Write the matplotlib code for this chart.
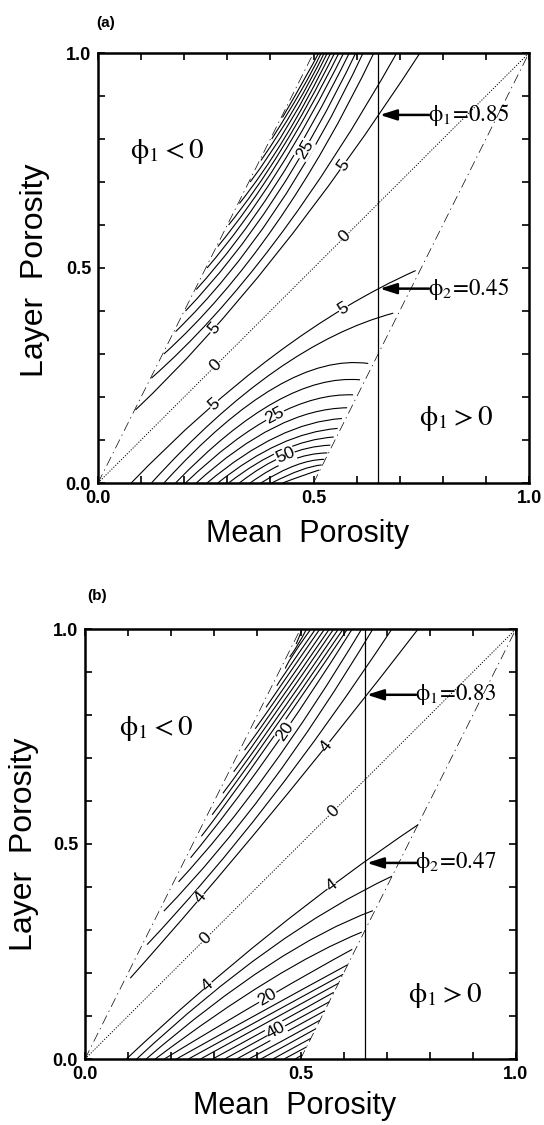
import matplotlib
matplotlib.use('Agg')
import matplotlib.pyplot as plt
from matplotlib.path import Path
from matplotlib.patches import PathPatch
import numpy as np

plt.rcParams['font.family'] = ['Liberation Sans', 'DejaVu Sans']
plt.rcParams['mathtext.fontset'] = 'stix'

# ---------------- panel (a) : contour lines ----------------
a_levels = [5, 10, 15, 20, 25, 30, 35, 40, 45, 50, 55, 60, 65, 70]
# lower family: start on bottom edge, a middle point, end at right boundary
a_low_x0 = [0.077, 0.124, 0.153, 0.180, 0.203, 0.228, 0.253, 0.278, 0.303, 0.328, 0.353, 0.378, 0.403, 0.428]
a_low_mx = [0.41, 0.41, 0.41, 0.41, 0.41, 0.41, 0.415, 0.42, 0.427, 0.434, 0.445, 0.458, 0.47, 0.48]
a_low_my = [0.298, 0.26, 0.222, 0.188, 0.157, 0.13, 0.108, 0.09, 0.076, 0.064, 0.052, 0.041, 0.03, 0.019]
a_low_ex = [0.737, 0.685, 0.627, 0.608, 0.592, 0.578, 0.566, 0.556, 0.547, 0.539, 0.532, 0.525, 0.519, 0.513]
a_low_ey = [0.494, 0.395, 0.278, 0.240, 0.205, 0.175, 0.150, 0.127, 0.107, 0.088, 0.070, 0.055, 0.042, 0.030]
# upper family: start at left boundary, middle point, end on top edge
a_up_sx = [0.087, 0.124, 0.153, 0.180, 0.203, 0.228, 0.253, 0.278, 0.303, 0.328, 0.353, 0.378, 0.403, 0.428]
a_up_sy = [0.170, 0.244, 0.300, 0.352, 0.400, 0.450, 0.500, 0.550, 0.600, 0.650, 0.700, 0.750, 0.800, 0.850]
a_up_mx = [0.41, 0.41, 0.41, 0.41, 0.41, 0.41, 0.415, 0.42, 0.427, 0.434, 0.445, 0.458, 0.47, 0.48]
a_up_my = [0.527, 0.56, 0.598, 0.632, 0.663, 0.69, 0.722, 0.75, 0.778, 0.804, 0.838, 0.875, 0.91, 0.941]
a_up_tx = [0.747, 0.693, 0.640, 0.615, 0.598, 0.583, 0.570, 0.559, 0.549, 0.540, 0.532, 0.525, 0.518, 0.512]
# contour labels: text, family, line index, x position
a_lab_txt = ['25', '5', '5', '0', '0', '5', '5', '25', '50']
a_lab_fam = ['up', 'up', 'up', 'zero', 'zero', 'low', 'low', 'low', 'low']
a_lab_idx = [4, 0, 0, 0, 0, 0, 0, 4, 9]
a_lab_x = [0.48, 0.569, 0.269, 0.573, 0.273, 0.569, 0.269, 0.41, 0.434]
a_arrow_y = [0.856, 0.452]
a_arrow_txt = [r'$\mathrm{\phi_1\!=\!0.85}$', r'$\mathrm{\phi_2\!=\!0.45}$']

# ---------------- panel (b) ----------------
b_levels = [4, 8, 12, 16, 20, 24, 28, 32, 36, 40, 44, 48, 52, 56, 60, 64]
b_low_x0 = [0.096, 0.12, 0.142, 0.163, 0.184, 0.212, 0.24, 0.268, 0.296, 0.324, 0.352, 0.38, 0.408, 0.436, 0.462, 0.488]
b_low_mx = [0.43, 0.426, 0.426, 0.426, 0.426, 0.41, 0.42, 0.428, 0.437, 0.446, 0.454, 0.463, 0.472, 0.48, 0.488, 0.496]
b_low_my = [0.292, 0.254, 0.218, 0.182, 0.145, 0.11, 0.099, 0.088, 0.077, 0.067, 0.056, 0.045, 0.035, 0.024, 0.014, 0.005]
b_low_ex = [0.773, 0.712, 0.668, 0.642, 0.62, 0.609, 0.599, 0.588, 0.577, 0.567, 0.556, 0.545, 0.535, 0.524, 0.514, 0.504]
b_low_ey = [0.545, 0.425, 0.345, 0.295, 0.255, 0.219, 0.197, 0.176, 0.155, 0.133, 0.112, 0.09, 0.07, 0.048, 0.028, 0.009]
b_up_sx = [0.105, 0.144, 0.183, 0.217, 0.245, 0.27, 0.295, 0.32, 0.345, 0.37, 0.395, 0.42, 0.445, 0.465, 0.475, 0.49]
b_up_sy = [0.188, 0.266, 0.344, 0.412, 0.468, 0.518, 0.568, 0.618, 0.668, 0.718, 0.768, 0.818, 0.868, 0.908, 0.935, 0.965]
b_up_mx = [0.43, 0.426, 0.426, 0.426, 0.426, 0.41, 0.42, 0.428, 0.437, 0.446, 0.454, 0.463, 0.472, 0.48, 0.495, 0.497]
b_up_my = [0.568, 0.598, 0.634, 0.67, 0.707, 0.71, 0.741, 0.768, 0.797, 0.825, 0.852, 0.881, 0.909, 0.936, 0.965, 0.982]
b_up_tx = [0.773, 0.712, 0.668, 0.642, 0.62, 0.609, 0.599, 0.588, 0.577, 0.567, 0.556, 0.545, 0.535, 0.524, 0.514, 0.504]
b_lab_txt = ['20', '4', '4', '0', '0', '4', '4', '20', '40']
b_lab_fam = ['up', 'up', 'up', 'zero', 'zero', 'low', 'low', 'low', 'low']
b_lab_idx = [4, 0, 0, 0, 0, 0, 0, 4, 9]
b_lab_x = [0.464, 0.56, 0.268, 0.576, 0.28, 0.572, 0.284, 0.424, 0.444]
b_arrow_y = [0.847, 0.456]
b_arrow_txt = [r'$\mathrm{\phi_1\!=\!0.83}$', r'$\mathrm{\phi_2\!=\!0.47}$']

# common pieces
mean_cut = 0.65
bnd_left_x, bnd_left_y = [0.0, 0.5], [0.0, 1.0]
bnd_right_x, bnd_right_y = [0.5, 1.0], [0.0, 1.0]
zero_x, zero_y = [0.0, 1.0], [0.0, 1.0]
tick_pos = [0.0, 0.1, 0.2, 0.3, 0.4, 0.5, 0.6, 0.7, 0.8, 0.9, 1.0]
tick_txt = ['0.0', '', '', '', '', '0.5', '', '', '', '', '1.0']


def ctrl(p0, pm, p1):
    # control point so that the quadratic curve passes through pm at t=0.5
    return (2 * pm[0] - (p0[0] + p1[0]) / 2, 2 * pm[1] - (p0[1] + p1[1]) / 2)


def bez_pts(p0, pm, p1):
    c = np.array(ctrl(p0, pm, p1))
    t = np.linspace(0, 1, 300)[:, None]
    return (1 - t) ** 2 * np.array(p0) + 2 * t * (1 - t) * c + t ** 2 * np.array(p1)


def draw_panel(ax, low, up, labs, arrows):
    ax.set_xlim(0, 1)
    ax.set_ylim(0, 1)
    curves = {'low': [], 'up': []}
    x0, mx, my, ex, ey = low
    for i in range(len(x0)):
        curves['low'].append([(x0[i], 0.0), (mx[i], my[i]), (ex[i], ey[i])])
    sx, sy, umx, umy, tx = up
    for i in range(len(sx)):
        curves['up'].append([(sx[i], sy[i]), (umx[i], umy[i]), (tx[i], 1.0)])
    for fam in ('low', 'up'):
        for p in curves[fam]:
            path = Path([p[0], ctrl(*p), p[2]], [Path.MOVETO, Path.CURVE3, Path.CURVE3])
            ax.add_patch(PathPatch(path, fill=False, lw=0.8, ec='k', zorder=2))

    ax.plot(zero_x, zero_y, color='k', lw=0.7, dashes=(1.2, 1.6), zorder=2)
    ax.plot(bnd_left_x, bnd_left_y, color='k', lw=0.5, dashes=(14, 6, 2, 6), zorder=2)
    ax.plot(bnd_right_x, bnd_right_y, color='k', lw=0.5, dashes=(14, 6, 2, 6), zorder=2)
    ax.plot([mean_cut, mean_cut], [0, 1], color='k', lw=0.9, zorder=3)

    txt, fam, idx, lx = labs
    for i in range(len(txt)):
        if fam[i] == 'zero':
            px, py, ang = lx[i], lx[i], 45
        else:
            pts = bez_pts(*curves[fam[i]][idx[i]])
            j = np.argmin(abs(pts[:, 0] - lx[i]))
            j = min(max(j, 1), len(pts) - 2)
            d = ax.transData.transform(pts[j + 1]) - ax.transData.transform(pts[j - 1])
            ang = np.degrees(np.arctan2(d[1], d[0]))
            px, py = pts[j]
        ax.text(px, py, txt[i], rotation=ang, ha='center', va='center',
                rotation_mode='anchor', fontsize=12.5, zorder=5,
                bbox=dict(fc='white', ec='none', pad=0.3))

    ay, atxt = arrows
    for k in range(2):
        ax.annotate('', xy=(mean_cut + 0.004, ay[k]), xytext=(0.768, ay[k]),
                    arrowprops=dict(arrowstyle='-|>,head_length=1.0,head_width=0.32',
                                    lw=1.8, color='k', shrinkA=0, shrinkB=0), zorder=6)
        ax.text(0.766, ay[k], atxt[k], ha='left', va='center', fontsize=16.5, zorder=6)

    ax.set_xticks(tick_pos)
    ax.set_yticks(tick_pos)
    ax.set_xticklabels(tick_txt, fontsize=13, fontweight='bold')
    ax.set_yticklabels(tick_txt, fontsize=13, fontweight='bold')
    ax.tick_params(direction='in', length=5, width=1.2, top=True, right=True, pad=5)
    for s in ax.spines.values():
        s.set_linewidth(1.8)


fig = plt.figure(figsize=(5.44, 11.25), dpi=100)
axa = fig.add_axes([98 / 544, 1 - 483 / 1125, 431 / 544, 430 / 1125])
axb = fig.add_axes([85 / 544, 1 - 1059 / 1125, 431 / 544, 430 / 1125])

draw_panel(axa, (a_low_x0, a_low_mx, a_low_my, a_low_ex, a_low_ey),
           (a_up_sx, a_up_sy, a_up_mx, a_up_my, a_up_tx),
           (a_lab_txt, a_lab_fam, a_lab_idx, a_lab_x), (a_arrow_y, a_arrow_txt))
draw_panel(axb, (b_low_x0, b_low_mx, b_low_my, b_low_ex, b_low_ey),
           (b_up_sx, b_up_sy, b_up_mx, b_up_my, b_up_tx),
           (b_lab_txt, b_lab_fam, b_lab_idx, b_lab_x), (b_arrow_y, b_arrow_txt))

axa.text(0.161, 0.77, r'$\mathrm{\phi_1 < 0}$', fontsize=21, ha='center', va='center')
axa.text(0.832, 0.151, r'$\mathrm{\phi_1 > 0}$', fontsize=21, ha='center', va='center')
axb.text(0.164, 0.768, r'$\mathrm{\phi_1 < 0}$', fontsize=21, ha='center', va='center')
axb.text(0.835, 0.147, r'$\mathrm{\phi_1 > 0}$', fontsize=21, ha='center', va='center')

fig.text(106 / 544, 1 - 23 / 1125, '(a)', fontsize=11, fontweight='bold', ha='center', va='center')
fig.text(97 / 544, 1 - 596 / 1125, '(b)', fontsize=11, fontweight='bold', ha='center', va='center')
fig.text(308 / 544, 1 - 534 / 1125, 'Mean  Porosity', fontsize=22, ha='center', va='center')
fig.text(295 / 544, 1 - 1106 / 1125, 'Mean  Porosity', fontsize=22, ha='center', va='center')
fig.text(35 / 544, 1 - 270 / 1125, 'Layer  Porosity', fontsize=23, ha='center', va='center', rotation=90)
fig.text(24 / 544, 1 - 844 / 1125, 'Layer  Porosity', fontsize=23, ha='center', va='center', rotation=90)

fig.savefig('out.png', dpi=100)
